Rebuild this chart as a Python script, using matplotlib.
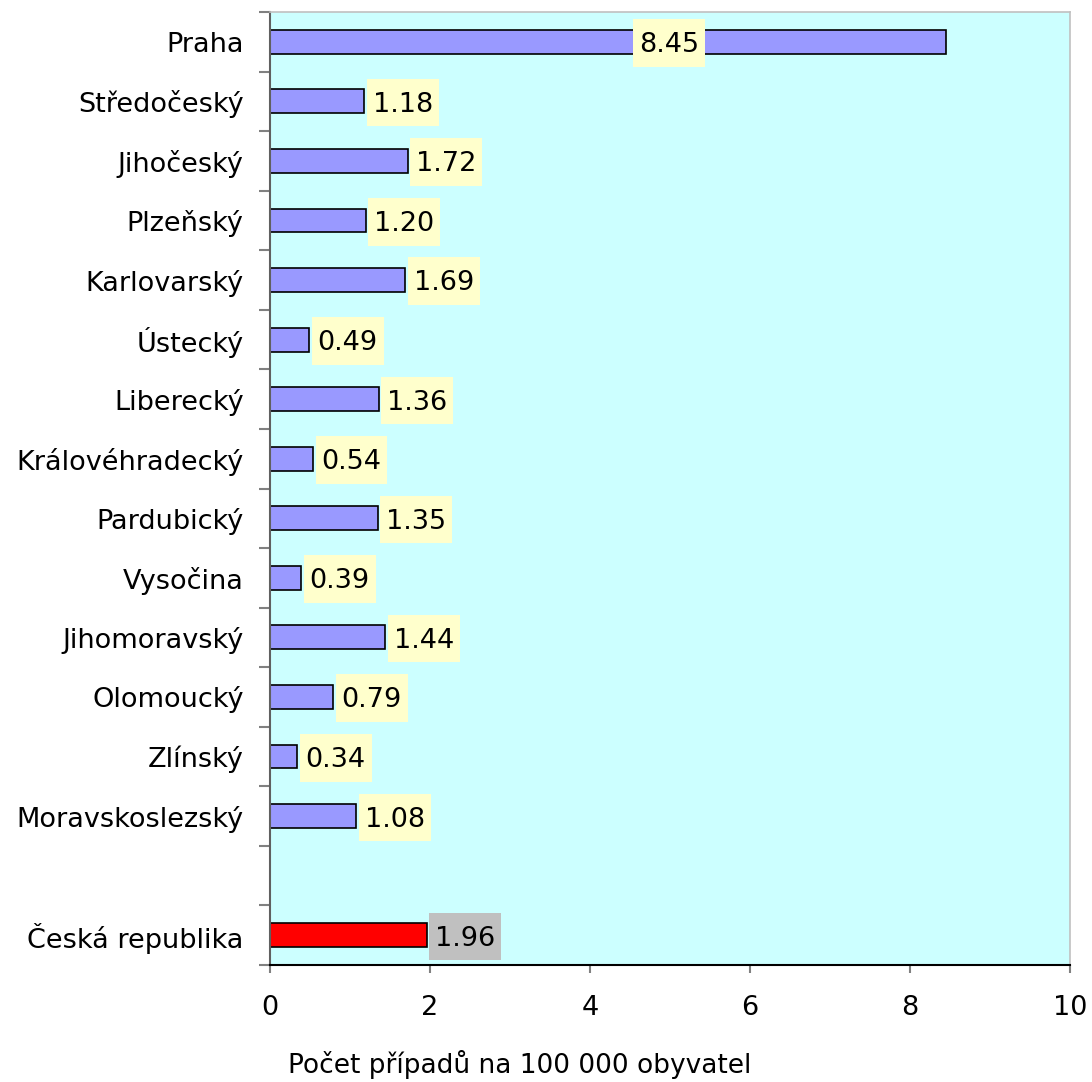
import matplotlib
matplotlib.use("Agg")
import matplotlib.pyplot as plt
from matplotlib.path import Path
import numpy as np

plt.rcParams['font.family'] = ['DejaVu Sans']

regions = ["Praha", "Středočeský", "Jihočeský", "Plzeňský", "Karlovarský", "Ústecký",
           "Liberecký", "Královéhradecký", "Pardubický", "Vysočina", "Jihomoravský",
           "Olomoucký", "Zlínský", "Moravskoslezský", "", "Česká republika"]
values = [8.45, 1.18, 1.72, 1.20, 1.69, 0.49, 1.36, 0.54, 1.35, 0.39, 1.44, 0.79, 0.34, 1.08, None, 1.96]
x_ticks = [0, 2, 4, 6, 8, 10]
x_label = "Počet případů na 100 000 obyvatel"


def label_box(x0, y0, width, height, mutation_size):
    padx = 0.22 * mutation_size
    half_h = 0.88 * mutation_size
    cy = y0 + height - 0.40 * mutation_size
    xa, xb = x0 - padx, x0 + width + padx
    ya, yb = cy - half_h, cy + half_h
    return Path([(xa, ya), (xb, ya), (xb, yb), (xa, yb), (xa, ya)], closed=True)


fig = plt.figure(figsize=(10.92, 10.82), dpi=100)
ax = fig.add_axes([270/1092, 1-965/1082, 800/1092, 953/1082])
ax.set_facecolor('#CCFFFF')

n = len(regions)
ypos = np.arange(n)
fs = 19.5
for i, (name, v) in enumerate(zip(regions, values)):
    if v is None:
        continue
    is_total = (i == n - 1)
    color = '#FF0000' if is_total else '#9999FF'
    ax.barh(i, v, height=0.4, color=color, edgecolor='black', linewidth=1.2, zorder=2)
    lx = v if v < 5 else v * 0.534
    ax.annotate(f"{v:.2f}", xy=(lx, i), xytext=(6, -7.5), textcoords='offset points',
                ha='left', va='baseline', fontsize=fs, color='black', zorder=3,
                bbox=dict(boxstyle=label_box, fc='#C0C0C0' if is_total else '#FFFFCC', ec='none'))

ax.set_xlim(0, 10)
ax.set_ylim(n - 0.5, -0.5)
ax.set_xticks(x_ticks)
ax.set_xticklabels([str(t) for t in x_ticks], fontsize=fs)
ax.tick_params(axis='x', direction='out', length=6, width=1.5, color='#808080', pad=15.5)

ax.set_yticks(ypos)
ax.set_yticklabels(regions, fontsize=fs)
ax.tick_params(axis='y', which='major', length=0, pad=19)
ax.set_yticks(np.arange(-0.5, n, 1.0), minor=True)
ax.tick_params(axis='y', which='minor', direction='out', length=8, width=1.5, color='#808080')

for s in ['top', 'right']:
    ax.spines[s].set_color('#C0C0C0')
    ax.spines[s].set_linewidth(1.2)
ax.spines['left'].set_color('#606060')
ax.spines['left'].set_linewidth(1.5)
ax.spines['bottom'].set_color('black')
ax.spines['bottom'].set_linewidth(1.5)

fig.text(520/1092, 1-1073/1082, x_label, ha='center', va='baseline', fontsize=19)

fig.savefig("out.png", dpi=100, facecolor='white')
